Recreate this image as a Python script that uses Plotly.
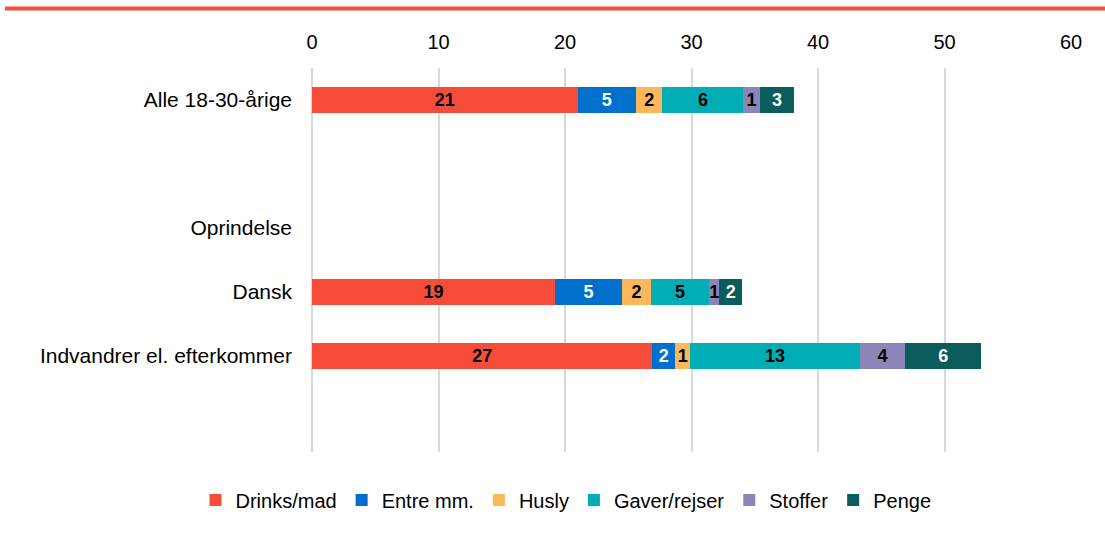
import plotly.graph_objects as go

categories = ["Alle 18-30-årige", " ", "Oprindelse", "Dansk", "Indvandrer el. efterkommer", "  "]
series_names = ["Drinks/mad", "Entre mm.", "Husly", "Gaver/rejser", "Stoffer", "Penge"]
drinks = [21.0, None, None, 19.2, 26.9, None]
entre = [4.6, None, None, 5.3, 1.8, None]
husly = [2.1, None, None, 2.3, 1.2, None]
gaver = [6.4, None, None, 4.6, 13.4, None]
stoffer = [1.3, None, None, 0.8, 3.6, None]
penge = [2.7, None, None, 1.8, 6.0, None]
series_values = [drinks, entre, husly, gaver, stoffer, penge]
x_ticks = [0, 10, 20, 30, 40, 50, 60]

colors = ["#F84C3B", "#0070CC", "#FDB75B", "#00ADB5", "#8B85BA", "#0A5C5D"]
text_colors = ["black", "white", "black", "black", "black", "white"]

FONT = "Liberation Sans, Arial, sans-serif"

fig = go.Figure()
for name, vals, col, tcol in zip(series_names, series_values, colors, text_colors):
    fig.add_trace(go.Bar(
        y=categories, x=vals, name=name, orientation="h",
        marker=dict(color=col, line=dict(width=0)),
        text=[("" if v is None else f"{round(v)}") for v in vals],
        textposition="inside", insidetextanchor="middle", textangle=0,
        textfont=dict(color=tcol, size=18, family=FONT, weight="bold"),
        hoverinfo="x+name",
    ))

W, H = 1105, 539
ml, mr, mt, mb = 312, 34, 68, 87
pw, ph = W - ml - mr, H - mt - mb

fig.update_layout(
    width=W, height=H, autosize=False,
    barmode="stack", bargap=0.6,
    plot_bgcolor="white", paper_bgcolor="white",
    margin=dict(l=ml, r=mr, t=mt, b=mb, pad=0, autoexpand=False),
    font=dict(family=FONT, size=20, color="black"),
    uniformtext=dict(minsize=18, mode="show"),
    xaxis=dict(
        side="top", range=[0, 60], tickvals=x_ticks, ticktext=[str(t) for t in x_ticks],
        showgrid=True, gridcolor="#D9D9D9", gridwidth=1.5,
        zeroline=True, zerolinecolor="#D9D9D9", zerolinewidth=1.5,
        showline=False, ticks="", ticklabelstandoff=14, automargin=False,
        tickfont=dict(size=20, color="black"),
    ),
    yaxis=dict(
        categoryorder="array", categoryarray=categories,
        autorange="reversed", showgrid=False, zeroline=False, showline=False,
        ticks="", ticklabelstandoff=19, automargin=False,
        tickfont=dict(size=21, color="black"),
    ),
    legend=dict(
        orientation="h", x=(566 - ml) / pw, xanchor="center",
        y=-0.125, yanchor="middle",
        font=dict(size=20), traceorder="normal", itemwidth=30,
    ),
    shapes=[dict(
        type="line", xref="paper", yref="paper",
        x0=(5 - ml) / pw, x1=(W - ml) / pw,
        y0=1 + (mt - 8.5) / ph, y1=1 + (mt - 8.5) / ph,
        line=dict(color="#F84C3B", width=4),
    )],
)

fig.write_html("out.html", config={"displayModeBar": False},
               post_script="document.body.style.margin='0px';")
